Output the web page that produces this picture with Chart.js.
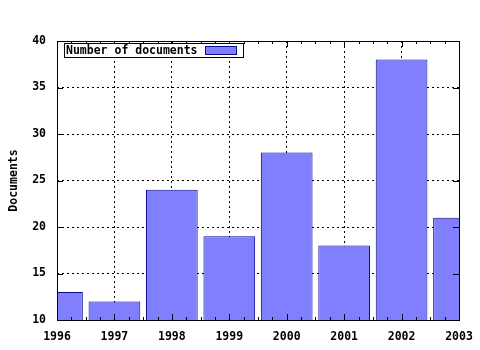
<!DOCTYPE html>
<html>
<head>
<meta charset="utf-8">
<script src="https://cdn.jsdelivr.net/npm/chart.js@4/dist/chart.umd.min.js"></script>
<style>
    body { margin: 0; background: #fff; }
    canvas { display: block; }
</style>
</head>
<body>
<canvas id="documentsChart" width="480" height="350"></canvas>
<script>
const years = [1996, 1997, 1998, 1999, 2000, 2001, 2002, 2003];
const documentCounts = [13, 12, 24, 19, 28, 18, 38, 21];
const yTickValues = [10, 15, 20, 25, 30, 35, 40];
const seriesLabel = 'Number of documents';
const yAxisTitle = 'Documents';

const FONT_FAMILY = '"DejaVu Sans Mono", "Liberation Mono", monospace';
const FONT_SIZE = 11.5;
const BAR_FILL = '#8080ff';
const BAR_EDGE = '#0c0c90';

// Box round the plot, inward ticks and the framed legend, gnuplot style
const framePlugin = {
    id: 'frame',
    afterDatasetsDraw(chart) {
        const ctx = chart.ctx;
        const area = chart.chartArea;
        const xScale = chart.scales.x;
        const yScale = chart.scales.y;

        ctx.save();
        ctx.strokeStyle = '#000';
        ctx.lineWidth = 1;
        ctx.setLineDash([]);

        ctx.beginPath();
        xScale.ticks.forEach((tick, i) => {
            const px = Math.round(xScale.getPixelForValue(tick.value)) + 0.5;
            ctx.moveTo(px, area.bottom);
            ctx.lineTo(px, area.bottom - 6);
            ctx.moveTo(px, area.top);
            ctx.lineTo(px, area.top + 6);
            if (i < xScale.ticks.length - 1) {
                [0.25, 0.5, 0.75].forEach((q) => {
                    const mx = Math.round(xScale.getPixelForValue(tick.value + q)) + 0.5;
                    ctx.moveTo(mx, area.bottom);
                    ctx.lineTo(mx, area.bottom - 3);
                    ctx.moveTo(mx, area.top);
                    ctx.lineTo(mx, area.top + 3);
                });
            }
        });
        yScale.ticks.forEach((tick) => {
            const py = Math.round(yScale.getPixelForValue(tick.value)) + 0.5;
            ctx.moveTo(area.left, py);
            ctx.lineTo(area.left + 6, py);
            ctx.moveTo(area.right, py);
            ctx.lineTo(area.right - 6, py);
        });
        ctx.stroke();

        ctx.strokeRect(Math.round(area.left) + 0.5, Math.round(area.top) + 0.5,
            Math.round(area.width), Math.round(area.height));

        // Legend
        ctx.font = 'bold ' + FONT_SIZE + 'px ' + FONT_FAMILY;
        const textWidth = ctx.measureText(seriesLabel).width;
        const x0 = Math.round(area.left) + 7;
        const y0 = Math.round(area.top) + 2;
        const swatchX = Math.round(x0 + 2 + textWidth + 7);
        const boxWidth = Math.round(swatchX + 31 + 7 - x0);

        ctx.fillStyle = '#fff';
        ctx.fillRect(x0, y0, boxWidth, 14);
        ctx.strokeRect(x0 + 0.5, y0 + 0.5, boxWidth, 14);

        ctx.fillStyle = '#000';
        ctx.textBaseline = 'middle';
        ctx.textAlign = 'left';
        ctx.fillText(seriesLabel, x0 + 2, y0 + 8);

        ctx.fillStyle = BAR_FILL;
        ctx.fillRect(swatchX, y0 + 3, 31, 8);
        ctx.strokeStyle = BAR_EDGE;
        ctx.strokeRect(swatchX + 0.5, y0 + 3.5, 31, 8);
        ctx.restore();
    }
};

const ctx = document.getElementById('documentsChart').getContext('2d');

new Chart(ctx, {
    type: 'bar',
    data: {
        datasets: [{
            label: seriesLabel,
            data: years.map((year, i) => ({ x: year, y: documentCounts[i] })),
            backgroundColor: BAR_FILL,
            borderColor: BAR_EDGE,
            borderWidth: 1,
            borderSkipped: false,
            categoryPercentage: 1.0,
            barPercentage: 0.9
        }]
    },
    options: {
        responsive: false,
        animation: false,
        layout: {
            padding: { top: 41, right: 21, left: 0, bottom: 0 }
        },
        plugins: {
            legend: { display: false },
            tooltip: { enabled: false }
        },
        scales: {
            x: {
                type: 'linear',
                min: years[0],
                max: years[years.length - 1],
                offset: false,
                afterBuildTicks: (scale) => {
                    scale.ticks = years.map((v) => ({ value: v }));
                },
                afterFit: (scale) => {
                    scale.height = 30;
                    scale.paddingLeft = 0;
                    scale.paddingRight = 0;
                },
                grid: {
                    offset: false,
                    color: '#000',
                    lineWidth: 1,
                    drawTicks: false
                },
                border: { display: false, dash: [2, 3] },
                ticks: {
                    color: '#000',
                    font: { family: FONT_FAMILY, size: FONT_SIZE, weight: 'bold' },
                    padding: 10,
                    autoSkip: false,
                    maxRotation: 0,
                    callback: (value) => String(value)
                }
            },
            y: {
                min: yTickValues[0],
                max: yTickValues[yTickValues.length - 1],
                afterBuildTicks: (scale) => {
                    scale.ticks = yTickValues.map((v) => ({ value: v }));
                },
                afterFit: (scale) => {
                    scale.width = 57;
                    scale.paddingTop = 0;
                    scale.paddingBottom = 0;
                },
                grid: {
                    color: '#000',
                    lineWidth: 1,
                    drawTicks: false
                },
                border: { display: false, dash: [2, 3] },
                ticks: {
                    color: '#000',
                    font: { family: FONT_FAMILY, size: FONT_SIZE, weight: 'bold' },
                    padding: 11
                },
                title: {
                    display: true,
                    text: yAxisTitle,
                    color: '#000',
                    font: { family: FONT_FAMILY, size: FONT_SIZE, weight: 'bold' },
                    padding: { top: 7, bottom: 0 }
                }
            }
        }
    },
    plugins: [framePlugin]
});
</script>
</body>
</html>
